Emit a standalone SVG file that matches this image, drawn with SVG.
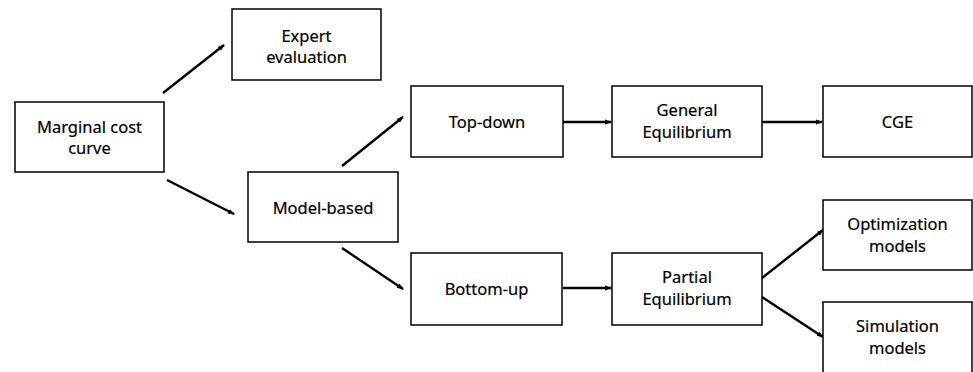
<svg xmlns="http://www.w3.org/2000/svg" width="973" height="372" viewBox="0 0 973 372">
<defs>
<style>
.box{fill:#fff;stroke:#000;stroke-width:1.5}
.lbl{font-family:"Noto Sans","DejaVu Sans",sans-serif;font-size:16.5px;fill:#000;stroke:#000;stroke-width:0.2;text-anchor:middle}
.con{stroke:#000;stroke-width:2.4;fill:none;marker-end:url(#ah)}
</style>
<marker id="ah" markerUnits="userSpaceOnUse" markerWidth="7" markerHeight="7" viewBox="0 0 7 7" refX="6" refY="3.5" orient="auto">
<path d="M0,1 L7,3.5 L0,6 Z" fill="#000"/>
</marker>
</defs>
<rect width="973" height="372" fill="#fff"/>
<g id="connectors">
<line class="con" x1="163" y1="93" x2="224" y2="45"/>
<line class="con" x1="167" y1="180" x2="234" y2="214"/>
<line class="con" x1="342" y1="166" x2="403" y2="117"/>
<line class="con" x1="342" y1="248" x2="403" y2="289"/>
<line class="con" x1="563" y1="122" x2="611" y2="122"/>
<line class="con" x1="762" y1="122" x2="822" y2="122"/>
<line class="con" x1="563" y1="288" x2="611" y2="288"/>
<line class="con" x1="762" y1="278" x2="823" y2="230"/>
<line class="con" x1="762" y1="297" x2="823" y2="337"/>
</g>
<g id="marginal">
<rect class="box" x="15" y="102" width="149" height="70"/>
<text class="lbl" x="89.5" y="133">Marginal cost</text>
<text class="lbl" x="89.5" y="154">curve</text>
</g>
<g id="expert">
<rect class="box" x="232" y="9" width="149" height="71"/>
<text class="lbl" x="306.5" y="42">Expert</text>
<text class="lbl" x="306.5" y="63">evaluation</text>
</g>
<g id="model">
<rect class="box" x="248" y="172" width="150" height="70"/>
<text class="lbl" x="323" y="214">Model-based</text>
</g>
<g id="topdown">
<rect class="box" x="411" y="86" width="152" height="71"/>
<text class="lbl" x="487" y="128">Top-down</text>
</g>
<g id="general">
<rect class="box" x="612" y="86" width="150" height="71"/>
<text class="lbl" x="687" y="116">General</text>
<text class="lbl" x="687" y="138">Equilibrium</text>
</g>
<g id="cge">
<rect class="box" x="823" y="86" width="149" height="71"/>
<text class="lbl" x="897.5" y="128">CGE</text>
</g>
<g id="bottomup">
<rect class="box" x="411" y="253" width="151" height="72"/>
<text class="lbl" x="486.5" y="295">Bottom-up</text>
</g>
<g id="partial">
<rect class="box" x="612" y="253" width="150" height="72"/>
<text class="lbl" x="687" y="283">Partial</text>
<text class="lbl" x="687" y="305">Equilibrium</text>
</g>
<g id="optimization">
<rect class="box" x="823" y="200" width="149" height="70"/>
<text class="lbl" x="897.5" y="230">Optimization</text>
<text class="lbl" x="897.5" y="252">models</text>
</g>
<g id="simulation">
<rect class="box" x="823" y="302" width="149" height="75"/>
<text class="lbl" x="897.5" y="332">Simulation</text>
<text class="lbl" x="897.5" y="354">models</text>
</g>
</svg>
